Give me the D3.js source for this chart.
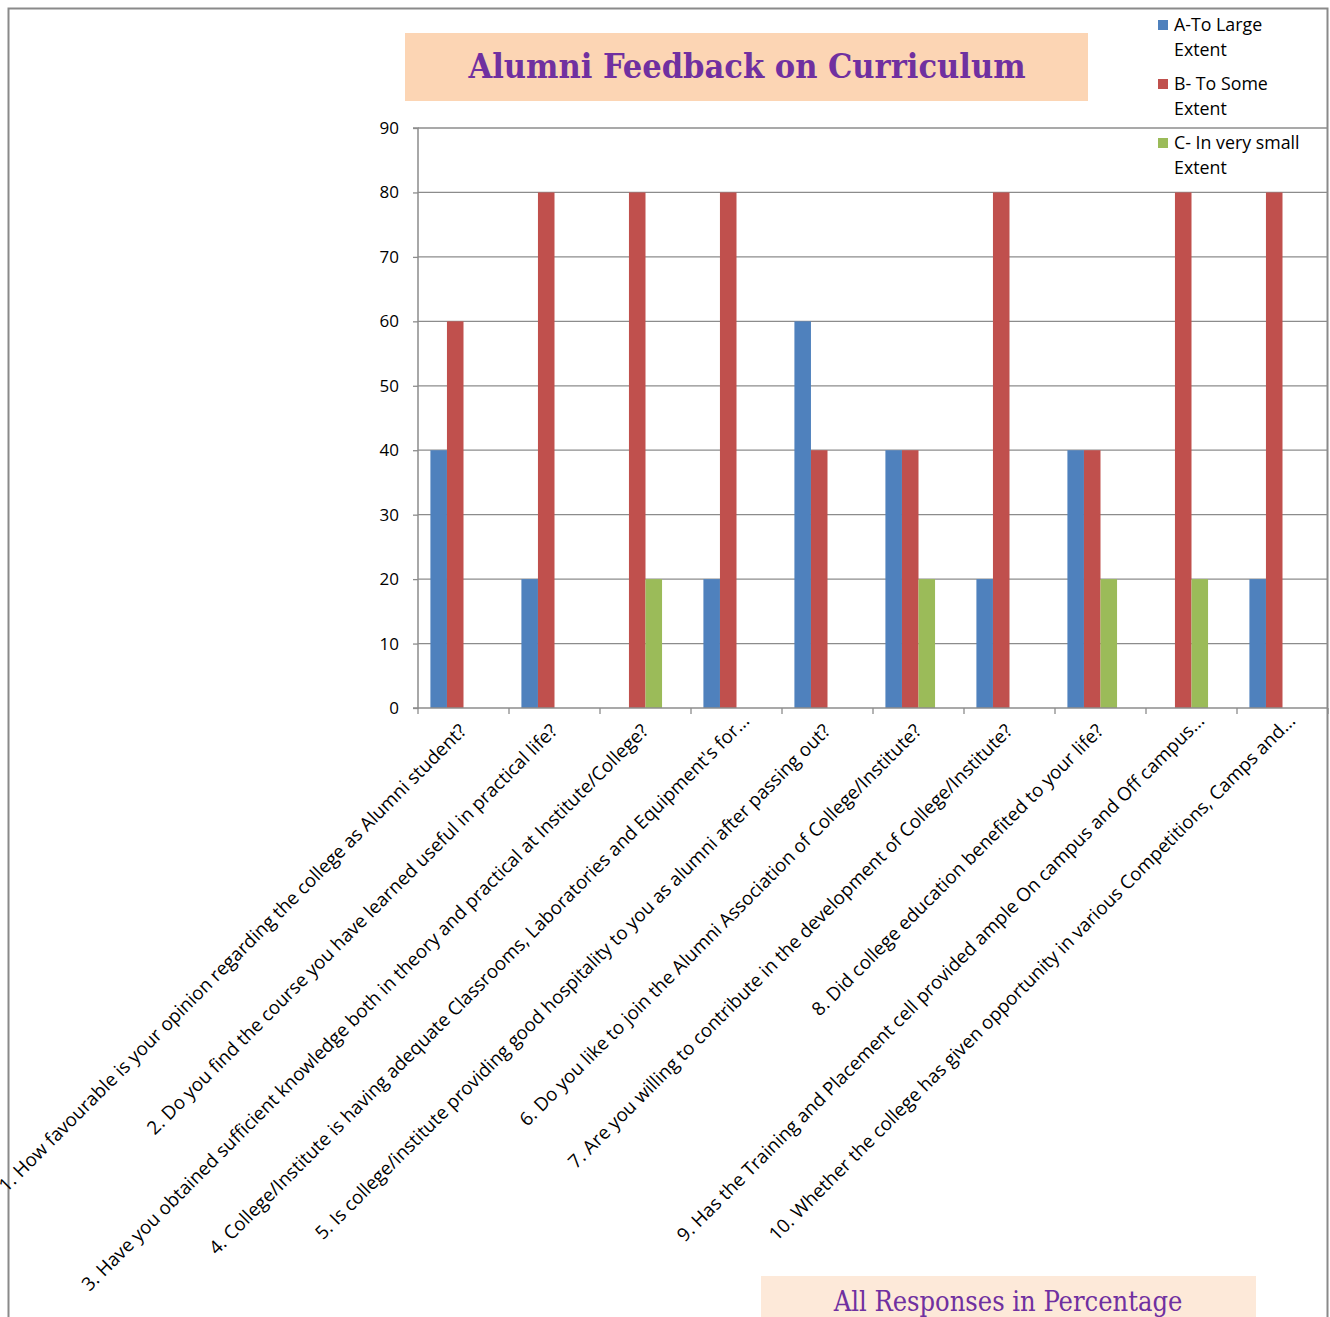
<!DOCTYPE html>
<html><head><meta charset="utf-8">
<script src="https://cdn.jsdelivr.net/npm/d3@7"></script>
<style>body{margin:0;background:#fff}svg{display:block}</style>
</head><body>
<svg id="c" width="1330" height="1317"></svg>
<script>
const categories = [
 "1. How favourable is your opinion regarding the college as Alumni student?",
 "2. Do you find the course you have learned useful in practical life?",
 "3. Have you obtained sufficient knowledge both in theory and practical at Institute/College?",
 "4. College/Institute is having adequate Classrooms, Laboratories and Equipment's for...",
 "5. Is college/institute providing good hospitality to you as alumni after passing out?",
 "6. Do you like to join the Alumni Association of College/Institute?",
 "7. Are you willing to contribute in the development of College/Institute?",
 "8. Did college education benefited to your life?",
 "9. Has the Training and Placement cell provided ample On campus and Off campus...",
 "10. Whether the college has given opportunity in various Competitions, Camps and..."
];
const seriesNames = ["A-To Large Extent", "B- To Some Extent", "C- In very small Extent"];
const legendLines = [["A-To Large", "Extent"], ["B- To Some", "Extent"], ["C- In very small", "Extent"]];
const seriesA = [40, 20, 0, 20, 60, 40, 20, 40, 0, 20];
const seriesB = [60, 80, 80, 80, 40, 40, 80, 40, 80, 80];
const seriesC = [0, 0, 20, 0, 0, 20, 0, 20, 20, 0];
const yTicks = [0, 10, 20, 30, 40, 50, 60, 70, 80, 90];
const colors = ["#4F81BD", "#C0504D", "#9BBB59"];
const titleText = "Alumni Feedback on Curriculum";
const subTitleText = "All Responses in Percentage";

const series = [seriesA, seriesB, seriesC];
const svg = d3.select("#c");
const FONT = "'Open Sans', Lato, sans-serif";

// outer frame
svg.append("path").attr("d", "M8.5,1317 L8.5,8.5 L1327.5,8.5 L1327.5,1317")
  .attr("fill", "none").attr("stroke", "#8a8a8a").attr("stroke-width", 2);

const L = 418, R = 1328, T = 128, B = 708;
const x0 = d3.scaleBand().domain(d3.range(categories.length)).range([L, R]).paddingInner(0).paddingOuter(0);
const step = x0.step();
const barW = step / 5.5;
const gap = step - 4 * barW;
const x1 = d3.scaleBand().domain(d3.range(series.length)).range([gap / 2, gap / 2 + 3 * barW]).padding(0);
const y = d3.scaleLinear().domain([0, 90]).range([B, T]);

// gridlines
svg.append("g").selectAll("line").data(yTicks.filter(d => d > 0)).join("line")
  .attr("x1", L).attr("x2", R).attr("y1", d => y(d)).attr("y2", d => y(d))
  .attr("stroke", "#8c8c8c").attr("stroke-width", 1.3);

// bars
const g = svg.append("g");
series.forEach((s, si) => {
  g.selectAll(".b" + si).data(s).join("rect")
    .attr("x", (d, i) => x0(i) + x1(si))
    .attr("width", x1.bandwidth())
    .attr("y", d => y(d))
    .attr("height", d => y(0) - y(d))
    .attr("fill", colors[si]);
});

// y axis
const yAxis = d3.axisLeft(y).tickValues(yTicks).tickSize(5).tickPadding(14);
const ya = svg.append("g").attr("transform", `translate(${L},0)`).call(yAxis);
ya.select(".domain").attr("stroke", "#8c8c8c").attr("stroke-width", 1.5).attr("d", `M-5,${T}H0V${B}H-5`);
ya.selectAll(".tick line").attr("stroke", "#8c8c8c").attr("stroke-width", 1.3);
ya.selectAll(".tick text").attr("font-family", FONT).attr("font-size", 17).attr("fill", "#000");

// x axis
const xa = svg.append("g").attr("transform", `translate(0,${B})`);
xa.append("line").attr("x1", L).attr("x2", R).attr("y1", 0).attr("y2", 0).attr("stroke", "#8c8c8c").attr("stroke-width", 1.5);
xa.selectAll(".xt").data(d3.range(categories.length + 1)).join("line")
  .attr("x1", i => L + i * step).attr("x2", i => L + i * step).attr("y1", 0).attr("y2", 6)
  .attr("stroke", "#8c8c8c").attr("stroke-width", 1.3);
const xl = xa.selectAll(".xl").data(categories).join("text")
  .attr("transform", (d, i) => {
    const sh = d.endsWith("...") ? 10 : 0;
    return `translate(${x0(i) + step / 2 + 4 + sh},${24 - sh}) rotate(-45)`;
  })
  .attr("text-anchor", "end")
  .attr("font-family", FONT).attr("font-size", 17).attr("fill", "#000")
  .text(d => d);
// fit font size so the first label has the reference's length (~652px)
const len0 = xl.node().getComputedTextLength();
xl.attr("font-size", 17 * 652 / len0);

// title
svg.append("rect").attr("x", 405).attr("y", 33).attr("width", 683).attr("height", 68).attr("fill", "#FCD5B4");
svg.append("text").attr("x", 747).attr("y", 78).attr("text-anchor", "middle")
  .attr("font-family", "'DejaVu Serif Condensed', 'Liberation Serif', serif").attr("font-weight", "bold")
  .attr("font-size", 34).attr("fill", "#7030A0").text(titleText);

// subtitle
svg.append("rect").attr("x", 761).attr("y", 1276).attr("width", 495).attr("height", 45).attr("fill", "#FDE9D9");
svg.append("text").attr("x", 1008).attr("y", 1311).attr("text-anchor", "middle")
  .attr("font-family", "'DejaVu Serif Condensed', 'Liberation Serif', serif")
  .attr("font-size", 27).attr("fill", "#7030A0").text(subTitleText);

// legend
const lg = svg.append("g");
legendLines.forEach((lines, i) => {
  const ty = 31 + i * 59;
  lg.append("rect").attr("x", 1158).attr("y", ty - 11).attr("width", 10).attr("height", 10).attr("fill", colors[i]);
  lines.forEach((t, j) => {
    lg.append("text").attr("x", 1174).attr("y", ty + j * 25).attr("font-family", FONT)
      .attr("font-size", 17.8).attr("fill", "#000").text(t);
  });
});
</script>
</body></html>
